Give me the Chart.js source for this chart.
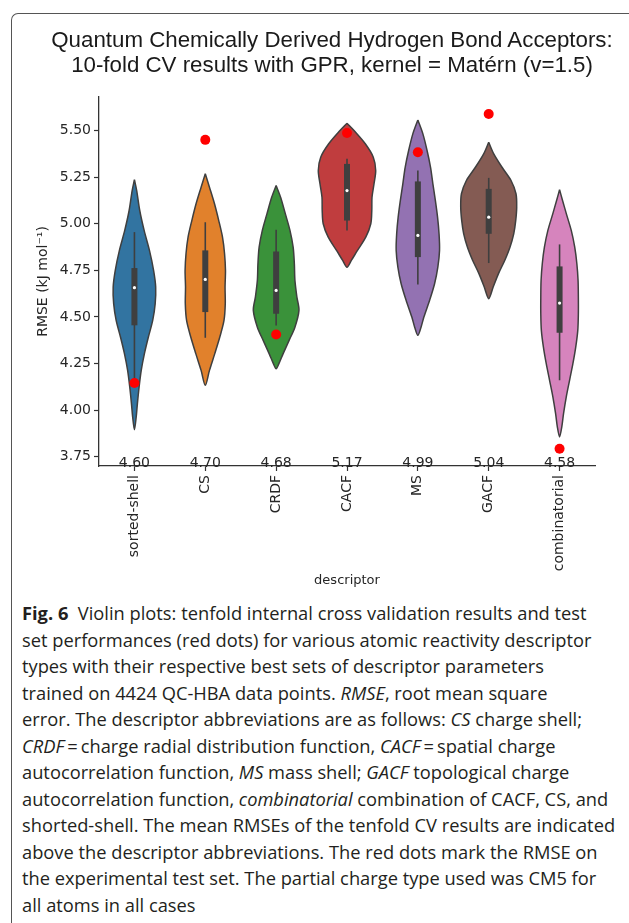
<!DOCTYPE html>
<html><head><meta charset="utf-8">
<script src="https://cdn.jsdelivr.net/npm/chart.js@4.4.0/dist/chart.umd.min.js"></script>
<style>
html,body{margin:0;padding:0;background:#fff;width:629px;height:923px;overflow:hidden;position:relative}
#frame{position:absolute;left:11px;top:13px;width:700px;height:1000px;border-left:1.3px solid #555;border-top:1.3px solid #555;border-top-left-radius:7px;z-index:0}
#title{position:absolute;left:0;top:27px;width:664px;text-align:center;font-family:'Liberation Sans';font-size:22.3px;line-height:25px;color:#1a1a1a;z-index:2;white-space:nowrap}
#wrap{position:absolute;left:0;top:0;width:629px;height:600px;z-index:1}
#caption{position:absolute;left:22px;top:600px;width:610px;font-family:'Open Sans';font-size:18.3px;line-height:26.5px;color:#231f20;z-index:1;white-space:nowrap}
#caption i{font-style:italic}
</style></head>
<body>
<div id="frame"></div>
<div id="title">Quantum Chemically Derived Hydrogen Bond Acceptors:<br>10-fold CV results with GPR, kernel = Matérn (v=1.5)</div>
<div id="wrap"><canvas id="c"></canvas></div>
<div id="caption">
<div><b>Fig. 6</b>&nbsp; Violin plots: tenfold internal cross validation results and test</div>
<div>set performances (red dots) for various atomic reactivity descriptor</div>
<div>types with their respective best sets of descriptor parameters</div>
<div>trained on 4424 QC-HBA data points. <i>RMSE</i>, root mean square</div>
<div>error. The descriptor abbreviations are as follows: <i>CS</i> charge shell;</div>
<div><i>CRDF</i>&#x2009;=&#x2009;charge radial distribution function, <i>CACF</i>&#x2009;=&#x2009;spatial charge</div>
<div>autocorrelation function, <i>MS</i> mass shell; <i>GACF</i> topological charge</div>
<div>autocorrelation function, <i>combinatorial</i> combination of CACF, CS, and</div>
<div>shorted-shell. The mean RMSEs of the tenfold CV results are indicated</div>
<div>above the descriptor abbreviations. The red dots mark the RMSE on</div>
<div>the experimental test set. The partial charge type used was CM5 for</div>
<div>all atoms in all cases</div>
</div>
<script>
// ---- data ----
const categories = ['sorted-shell','CS','CRDF','CACF','MS','GACF','combinatorial'];
const meanLabels = ['4.60','4.70','4.68','5.17','4.99','5.04','4.58'];
const testRMSE   = [4.145, 5.450, 4.406, 5.487, 5.384, 5.589, 3.793];
const medians    = [4.657, 4.701, 4.642, 5.178, 4.937, 5.035, 4.574];
const q1         = [4.455, 4.526, 4.517, 5.017, 4.821, 4.946, 4.415];
const q3         = [4.762, 4.857, 4.851, 5.321, 5.227, 5.187, 4.771];
const whiskerLow = [4.150, 4.388, 4.454, 4.964, 4.674, 4.789, 4.160];
const whiskerHigh= [4.955, 5.008, 4.968, 5.348, 5.286, 5.246, 4.889];
const yTicks     = [3.75, 4.00, 4.25, 4.50, 4.75, 5.00, 5.25, 5.50];
const violinColors = ['#3274a1','#e1812c','#3a923a','#c03d3e','#9372b2','#845b53','#d684bd'];

// violin density profiles: [RMSE level, half width in category units], top to bottom
const densitySortedShell = [[5.236,0],[5.178,0.032],[5.071,0.075],[4.964,0.137],[4.857,0.212],[4.749,0.271],[4.660,0.300],[4.571,0.293],[4.481,0.258],[4.392,0.197],[4.303,0.141],[4.213,0.096],[4.124,0.066],[4.035,0.042],[3.963,0.025],[3.895,0]];
const densityCS = [[5.268,0],[5.196,0.059],[5.107,0.130],[5.017,0.190],[4.928,0.243],[4.839,0.272],[4.749,0.285],[4.660,0.279],[4.571,0.282],[4.481,0.264],[4.392,0.205],[4.303,0.134],[4.213,0.059],[4.133,0]];
const densityCRDF = [[5.205,0],[5.142,0.063],[5.053,0.130],[4.964,0.195],[4.874,0.240],[4.785,0.257],[4.696,0.265],[4.606,0.293],[4.535,0.322],[4.445,0.265],[4.374,0.183],[4.303,0.099],[4.249,0.039],[4.222,0]];
const densityCACF = [[5.539,0],[5.500,0.099],[5.429,0.258],[5.357,0.371],[5.286,0.405],[5.214,0.381],[5.142,0.353],[5.071,0.350],[5.000,0.336],[4.928,0.265],[4.857,0.148],[4.803,0.061],[4.767,0]];
const densityMS = [[5.557,0],[5.482,0.071],[5.393,0.130],[5.303,0.179],[5.214,0.212],[5.125,0.247],[5.035,0.278],[4.946,0.299],[4.857,0.306],[4.767,0.282],[4.678,0.236],[4.588,0.165],[4.499,0.085],[4.445,0.045],[4.401,0]];
const densityGACF = [[5.437,0],[5.375,0.071],[5.303,0.188],[5.232,0.315],[5.161,0.385],[5.089,0.395],[5.017,0.381],[4.946,0.353],[4.874,0.300],[4.803,0.226],[4.732,0.138],[4.660,0.063],[4.598,0]];
const densityCombinatorial = [[5.182,0],[5.125,0.042],[5.053,0.096],[4.964,0.165],[4.874,0.214],[4.785,0.244],[4.696,0.261],[4.606,0.265],[4.517,0.265],[4.428,0.257],[4.338,0.228],[4.249,0.188],[4.160,0.141],[4.070,0.094],[3.981,0.056],[3.909,0.031],[3.856,0]];
const densities = [densitySortedShell, densityCS, densityCRDF, densityCACF, densityMS, densityGACF, densityCombinatorial];

// ---- build datasets ----
const datasets = [];
datasets.push({label:'test', data: testRMSE.map((v,i)=>({x:i,y:v})), showLine:false,
  pointRadius:5, pointBackgroundColor:'#ff0000', pointBorderWidth:0, order:0});
datasets.push({label:'median', data: medians.map((v,i)=>({x:i,y:v})), showLine:false,
  pointRadius:1.6, pointBackgroundColor:'#ffffff', pointBorderWidth:0, order:1});
categories.forEach((c,i)=>{
  datasets.push({label:'box'+i, data:[{x:i,y:q1[i]},{x:i,y:q3[i]}], showLine:true, pointRadius:0,
    borderColor:'#3f3f3f', borderWidth:6, borderCapStyle:'butt', order:2});
  datasets.push({label:'whisker'+i, data:[{x:i,y:whiskerLow[i]},{x:i,y:whiskerHigh[i]}], showLine:true, pointRadius:0,
    borderColor:'#3f3f3f', borderWidth:1.6, order:3});
  const d = densities[i];
  const pts = [];
  d.forEach(p=>pts.push({x:i+p[1], y:p[0]}));
  for (let k=d.length-2;k>=0;k--) pts.push({x:i-d[k][1], y:d[k][0]});
  datasets.push({label:c, data:pts, showLine:true, pointRadius:0, tension:0.3,
    borderColor:'#3f3f3f', borderWidth:1.5, backgroundColor:violinColors[i], fill:'shape', order:4});
});

const meanLabelPlugin = {
  id:'meanLabels',
  afterDatasetsDraw(chart){
    const {ctx, scales:{x,y}} = chart;
    ctx.save();
    ctx.font = '14px "DejaVu Sans"';
    ctx.fillStyle = '#262626';
    ctx.textAlign = 'center';
    ctx.textBaseline = 'alphabetic';
    meanLabels.forEach((t,i)=>ctx.fillText(t, x.getPixelForValue(i), y.bottom + 0.5));
    ctx.restore();
  }
};

Chart.defaults.font.family = '"DejaVu Sans"';
Chart.defaults.color = '#262626';

new Chart(document.getElementById('c'), {
  type:'scatter',
  data:{datasets},
  options:{
    responsive:true, maintainAspectRatio:false, animation:false, devicePixelRatio:1,
    layout:{padding:{left:35,right:34,top:97,bottom:0}},
    plugins:{ legend:{display:false}, tooltip:{enabled:false}, title:{display:false} },
    scales:{
      x:{type:'linear', min:-0.5, max:6.5,
        afterBuildTicks(s){ s.ticks = categories.map((_,i)=>({value:i})); },
        afterFit(s){ s.height = 134; },
        ticks:{autoSkip:false, minRotation:90, maxRotation:90, padding:4, font:{size:14}, color:'#262626',
          callback:(v)=>categories[v]},
        grid:{display:true, drawOnChartArea:false, drawTicks:true, tickLength:5, color:'#333', tickWidth:1.2},
        border:{display:true, color:'#333', width:1.3},
        title:{display:true, text:'descriptor', font:{size:13}, color:'#262626', padding:{top:0,bottom:12}}
      },
      y:{type:'linear', min:3.70, max:5.68,
        afterBuildTicks(s){ s.ticks = yTicks.map(v=>({value:v})); },
        afterFit(s){ s.width = 64; },
        ticks:{padding:3, font:{size:14}, color:'#262626', callback:(v)=>v.toFixed(2)},
        grid:{display:true, drawOnChartArea:false, drawTicks:true, tickLength:5, color:'#333', tickWidth:1.2},
        border:{display:true, color:'#333', width:1.3},
        title:{display:true, text:'RMSE (kJ mol⁻¹)', font:{size:14}, color:'#262626', padding:{top:0,bottom:0}}
      }
    }
  },
  plugins:[meanLabelPlugin]
});
</script>
</body></html>
